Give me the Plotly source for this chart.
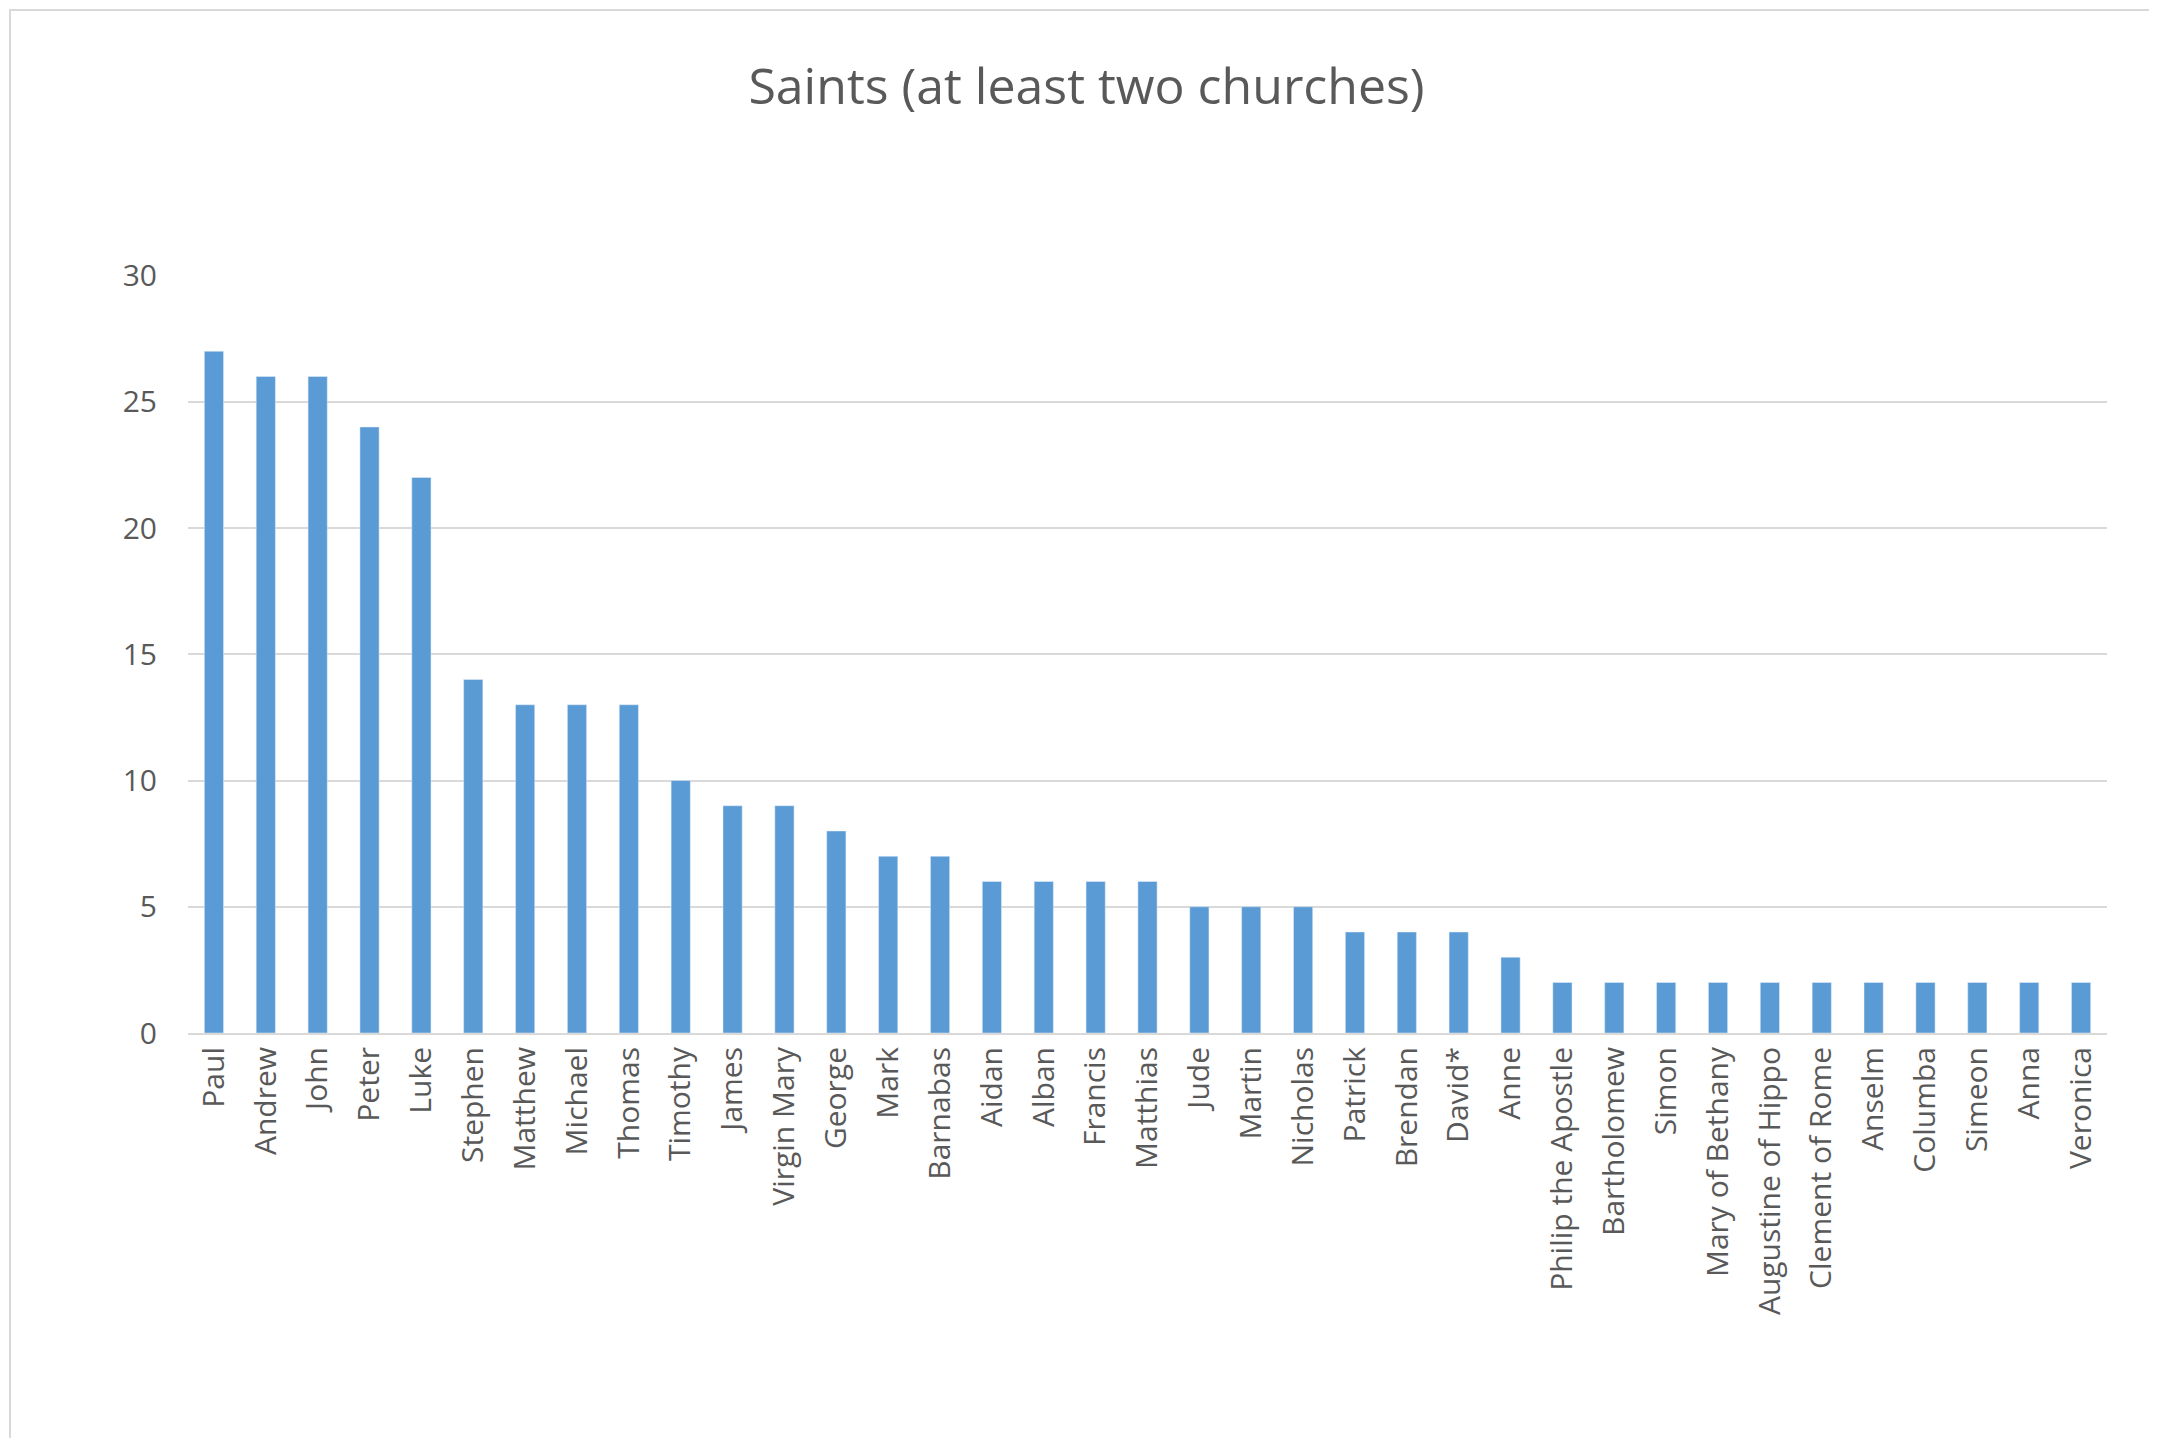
import plotly.graph_objects as go

saints = ["Paul", "Andrew", "John", "Peter", "Luke", "Stephen", "Matthew", "Michael",
          "Thomas", "Timothy", "James", "Virgin Mary", "George", "Mark", "Barnabas",
          "Aidan", "Alban", "Francis", "Matthias", "Jude", "Martin", "Nicholas",
          "Patrick", "Brendan", "David*", "Anne", "Philip the Apostle", "Bartholomew",
          "Simon", "Mary of Bethany", "Augustine of Hippo", "Clement of Rome", "Anselm",
          "Columba", "Simeon", "Anna", "Veronica"]
churches = [27, 26, 26, 24, 22, 14, 13, 13, 13, 10, 9, 9, 8, 7, 7, 6, 6, 6, 6, 5, 5, 5,
            4, 4, 4, 3, 2, 2, 2, 2, 2, 2, 2, 2, 2, 2, 2]

W, H = 2157, 1438
ml, mr, mt, mb = 180, 58, 267, 413

fig = go.Figure(go.Bar(x=saints, y=churches, marker_color="#5b9bd5"))
fig.update_layout(
    width=W, height=H,
    margin=dict(l=ml, r=mr, t=mt, b=mb),
    paper_bgcolor="white", plot_bgcolor="white",
    font=dict(family="Open Sans", color="#595959", size=30),
    title=dict(text="Saints (at least two churches)", x=0.5, xanchor="center",
               y=1 - 78 / H, yanchor="middle", font=dict(size=50, color="#595959")),
    bargap=0.63,
    showlegend=False,
)
fig.update_yaxes(range=[0, 30.02], tickvals=[0, 5, 10, 15, 20, 25, 30],
                 showgrid=True, gridcolor="#d9d9d9",
                 gridwidth=2, zeroline=False, ticks="", ticklabelstandoff=30)
fig.update_xaxes(tickangle=-90, showline=True, linecolor="#d9d9d9", linewidth=2,
                 ticks="")
pw, ph = W - ml - mr, H - mt - mb
fig.add_shape(type="rect", xref="paper", yref="paper",
              x0=-(ml - 2) / pw, x1=1 + (mr - 2) / pw,
              y0=-(mb - 2) / ph, y1=1 + (mt - 2) / ph,
              line=dict(color="#d9d9d9", width=2))
fig.write_html("out.html")
